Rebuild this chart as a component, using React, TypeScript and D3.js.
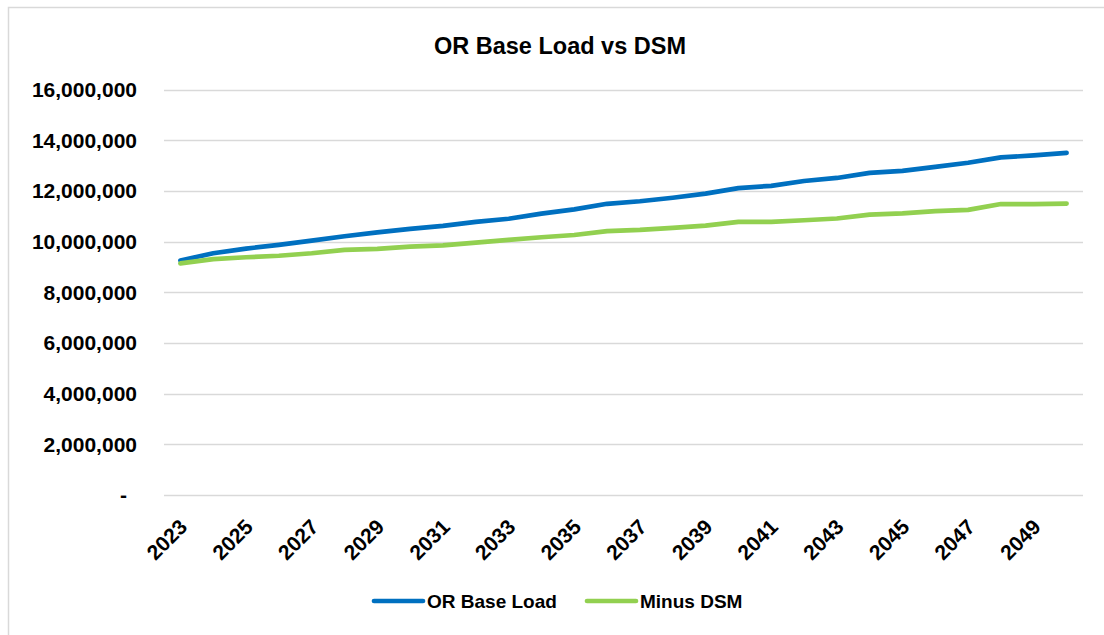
import React from "react";
import * as d3 from "d3";

const years: number[] = [
  2023, 2024, 2025, 2026, 2027, 2028, 2029, 2030, 2031, 2032, 2033, 2034, 2035, 2036,
  2037, 2038, 2039, 2040, 2041, 2042, 2043, 2044, 2045, 2046, 2047, 2048, 2049, 2050,
];

const baseLoad: number[] = [
  9250000, 9540000, 9720000, 9870000, 10040000, 10210000, 10360000, 10500000, 10620000,
  10780000, 10900000, 11100000, 11270000, 11490000, 11590000, 11730000, 11890000, 12110000,
  12200000, 12390000, 12510000, 12710000, 12790000, 12950000, 13110000, 13320000, 13400000,
  13500000,
];

const minusDSM: number[] = [
  9140000, 9310000, 9380000, 9440000, 9540000, 9670000, 9710000, 9800000, 9850000,
  9960000, 10070000, 10170000, 10260000, 10410000, 10460000, 10540000, 10630000, 10780000,
  10780000, 10840000, 10910000, 11060000, 11110000, 11200000, 11250000, 11480000, 11480000,
  11500000,
];

const yTicks: number[] = [0, 2000000, 4000000, 6000000, 8000000, 10000000, 12000000, 14000000, 16000000];
const xTickYears: number[] = years.filter((_, i) => i % 2 === 0);

const title = "OR Base Load vs DSM";
const seriesNames = ["OR Base Load", "Minus DSM"];
const seriesColors = ["#0070C0", "#92D050"];

const W = 1104;
const H = 635;
const plotLeft = 164;
const plotRight = 1083;
const plotTop = 89.5;
const plotBottom = 495;
const FONT = "'Liberation Sans', Arial, sans-serif";

export default function App() {
  const x = d3.scaleBand<number>().domain(years).range([plotLeft, plotRight]);
  const cx = (yr: number) => (x(yr) as number) + x.bandwidth() / 2;
  const y = d3.scaleLinear().domain([0, 16000000]).range([plotBottom, plotTop]);
  const fmt = d3.format(",");

  const line = d3
    .line<number>()
    .x((_, i) => cx(years[i]))
    .y((d) => y(d));

  const series = [baseLoad, minusDSM];

  return (
    <svg
      width={W}
      height={H}
      style={{ position: "absolute", left: 0, top: 0, display: "block", background: "#fff" }}
    >
      <rect x={0} y={0} width={W} height={H} fill="#fff" />
      {/* chart frame (only top/left visible) */}
      <rect x={8.5} y={7.5} width={W + 50} height={H + 50} fill="none" stroke="#d9d9d9" strokeWidth={1.5} />

      <text
        x={560}
        y={54}
        textAnchor="middle"
        fontFamily={FONT}
        fontWeight="bold"
        fontSize={23.5}
        fill="#000"
      >
        {title}
      </text>

      {/* gridlines */}
      {yTicks.map((t) => (
        <line
          key={"g" + t}
          x1={plotLeft}
          x2={plotRight}
          y1={Math.round(y(t)) + 0.5}
          y2={Math.round(y(t)) + 0.5}
          stroke="#d9d9d9"
          strokeWidth={1.5}
        />
      ))}

      {/* y labels */}
      {yTicks.map((t) => (
        <text
          key={"yl" + t}
          x={t === 0 ? 127 : 137}
          y={y(t)}
          dy="0.35em"
          textAnchor="end"
          fontFamily={FONT}
          fontWeight="bold"
          fontSize={21}
          fill="#000"
        >
          {t === 0 ? "-" : fmt(t)}
        </text>
      ))}

      {/* x labels */}
      {xTickYears.map((yr) => {
        const ax = cx(yr) + 3;
        const ay = 523;
        return (
          <text
            key={"xl" + yr}
            x={ax}
            y={ay}
            dy="0.35em"
            textAnchor="end"
            transform={`rotate(-45 ${ax} ${ay})`}
            fontFamily={FONT}
            fontWeight="bold"
            fontSize={21}
            fill="#000"
          >
            {yr}
          </text>
        );
      })}

      {/* series lines */}
      {series.map((s, i) => (
        <path
          key={"s" + i}
          d={line(s) || ""}
          fill="none"
          stroke={seriesColors[i]}
          strokeWidth={4.7}
          strokeLinejoin="round"
          strokeLinecap="round"
        />
      ))}

      {/* legend */}
      {[
        { x0: 374, x1: 423, tx: 427 },
        { x0: 587, x1: 636, tx: 640 },
      ].map((p, i) => (
        <g key={"lg" + i}>
          <line
            x1={p.x0}
            x2={p.x1}
            y1={601}
            y2={601}
            stroke={seriesColors[i]}
            strokeWidth={4.7}
            strokeLinecap="round"
          />
          <text
            x={p.tx}
            y={601}
            dy="0.35em"
            fontFamily={FONT}
            fontWeight="bold"
            fontSize={19}
            fill="#000"
          >
            {seriesNames[i]}
          </text>
        </g>
      ))}
    </svg>
  );
}
